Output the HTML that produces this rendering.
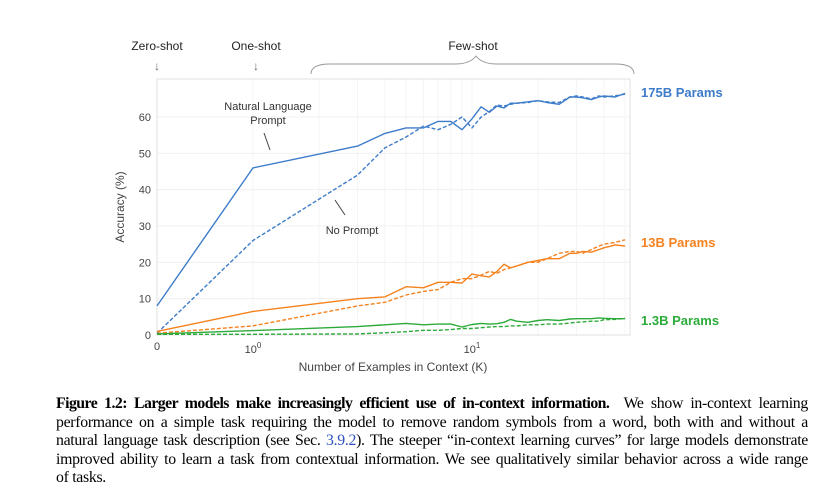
<!DOCTYPE html>
<html><head><meta charset="utf-8">
<style>
body{margin:0;background:#fff;width:828px;height:491px;overflow:hidden}
svg text{font-family:"Liberation Sans",sans-serif}
#cap{position:absolute;left:56px;top:395px;width:752px;font-family:"Liberation Serif",serif;font-size:15.8px;line-height:18.6px;color:#000;letter-spacing:-0.3px}
#cap .ln{white-space:nowrap;text-align:justify;text-align-last:justify;width:752px}
#cap .last{text-align-last:left}
</style></head><body>
<svg id="chart" width="828" height="390" style="position:absolute;left:0;top:0">
<g id="grid"></g><g id="series"></g><g id="axes"></g>
</svg>
<div id="cap">
<div class="ln"><b style="letter-spacing:-0.55px">Figure 1.2: Larger models make increasingly efficient use of in-context information.</b>&nbsp; We show in-context learning</div>
<div class="ln">performance on a simple task requiring the model to remove random symbols from a word, both with and without a</div>
<div class="ln">natural language task description (see Sec. <span style="color:#3050c0">3.9.2</span>). The steeper “in-context learning curves” for large models demonstrate</div>
<div class="ln">improved ability to learn a task from contextual information. We see qualitatively similar behavior across a wide range</div>
<div class="ln last">of tasks.</div>
</div>
<script>
const kValues=[0,1,3,4,5,6,7,8,9,10,11,12,13,14,15,16,18,20,22,25,28,30,32,35,38,40,45,50];
const nl175=[8,46,52,55.5,57,57,58.8,58.8,56.5,59.5,62.8,61.3,63,62.5,63.8,63.8,64.2,64.5,64,63.5,65.5,65.5,65.3,64.8,65.5,65.8,65.5,66.5];
const np175=[0.5,26,44,51.5,54.5,57.5,56.5,58,60,57,60,61.5,63.3,63,63.5,63.8,64,64.5,64.2,64,65.5,65.8,65.5,65,65.8,65.5,65.8,66.3];
const nl13=[1,6.5,10,10.5,13.3,13,14.5,14.5,14.3,16.8,16.3,16,17.5,19.5,18.5,19,20,20.5,21,21,22.5,22.5,23,22.8,23.5,24,24.8,24.5];
const np13=[0.5,2.5,8,9,11,12,12.5,14.5,15.5,15.5,16.5,17.5,17,18,18.5,19,20,20,21,22.5,23,23,22.5,23.5,24.5,25,25.5,26.2];
const nl1=[0.3,1.2,2.3,2.8,3.2,2.8,3,3,2.2,2.9,3.2,3,3.1,3.5,4.3,3.8,3.5,4,4.2,4,4.4,4.5,4.5,4.5,4.7,4.6,4.5,4.5];
const np1=[0.2,0.2,0.3,0.6,0.9,1.3,1.3,1.5,1.8,1.8,2,2.2,2.3,2.3,2.5,2.5,2.8,2.8,3,3,3.3,3.5,3.6,3.8,3.8,4.2,4.3,4.6];
const yTicks=[0,10,20,30,40,50,60];
const NS="http://www.w3.org/2000/svg";
const L=157,R=630,T=79,B=335;
function xs(k){return k<=0?L:253+Math.log10(k)*219;}
function ys(v){return B-v*3.633;}
function mk(tag,attrs,parent,txt){const e=document.createElementNS(NS,tag);for(const a in attrs)e.setAttribute(a,attrs[a]);if(txt!==undefined)e.textContent=txt;parent.appendChild(e);return e;}
const grid=document.getElementById('grid'),ser=document.getElementById('series'),ax=document.getElementById('axes');
for(const t of yTicks){const g=mk('line',{x1:L,x2:R,y1:ys(t),y2:ys(t),stroke:'#f0f0f0','stroke-width':1},grid);

}
for(let k=1;k<=50;k++){if(k>10&&k%10!==0)continue;const g=mk('line',{x1:xs(k),x2:xs(k),y1:T,y2:B,stroke:'#f4f4f4','stroke-width':1},grid);

}
const frame=mk('rect',{x:L,y:T,width:R-L,height:B-T,fill:'none',stroke:'#e0e0e0','stroke-width':1},grid);


const specs=[[nl175,'#3d7cc9','','175b-natural-language-line'],[np175,'#3d7cc9','4,2','175b-no-prompt-line'],
[nl13,'#f5821f','','13b-natural-language-line'],[np13,'#f5821f','4,2','13b-no-prompt-line'],
[nl1,'#2cab3a','','1.3b-natural-language-line'],[np1,'#2cab3a','4,2','1.3b-no-prompt-line']];
for(const [vals,col,dash,name] of specs){
 const d=vals.map((v,i)=>(i?'L':'M')+xs(kValues[i]).toFixed(1)+','+ys(v).toFixed(1)).join(' ');
 const p=mk('path',{d:d,fill:'none',stroke:col,'stroke-width':1.4,'stroke-dasharray':dash,'stroke-linejoin':'round'},ser);
 
 
}
for(const t of yTicks){const e=mk('text',{x:L-6,y:ys(t)+4,'text-anchor':'end','font-size':11,fill:'#444'},ax,String(t));

}
function txt(x,y,s,o,name){const e=mk('text',Object.assign({x:x,y:y,'font-size':11,fill:'#444'},o||{}),ax,s);

return e;}
txt(L,350,'0',{'text-anchor':'middle'},'x-tick-0');
const t1=txt(253,353,'10',{'text-anchor':'middle'},'x-tick-10-0');mk('tspan',{dy:-5,'font-size':8},t1,'0');
const t2=txt(472,353,'10',{'text-anchor':'middle'},'x-tick-10-1');mk('tspan',{dy:-5,'font-size':8},t2,'1');
txt(393,371,'Number of Examples in Context  (K)',{'text-anchor':'middle','font-size':12},'x-axis-title');
txt(124,207,'Accuracy (%)',{'text-anchor':'middle','font-size':12,transform:'rotate(-90 124 207)'},'y-axis-title');
txt(157,50,'Zero-shot',{'text-anchor':'middle','font-size':12,fill:'#222'},'zero-shot-label');
txt(256,50,'One-shot',{'text-anchor':'middle','font-size':12,fill:'#222'},'one-shot-label');
txt(473,50,'Few-shot',{'text-anchor':'middle','font-size':12,fill:'#222'},'few-shot-label');
txt(157,70,'↓',{'text-anchor':'middle','font-size':12,fill:'#666'},'zero-shot-arrow');
txt(256,70,'↓',{'text-anchor':'middle','font-size':12,fill:'#666'},'one-shot-arrow');
const br=mk('path',{d:'M311,74 Q311,64 330,64 L455,64 Q470,64 476,56 Q482,64 497,64 L615,64 Q634,64 634,74',fill:'none',stroke:'#999','stroke-width':1},ax);


txt(268,110,'Natural Language',{'text-anchor':'middle','font-size':11,fill:'#333'},'natural-language-annotation');
txt(268,124,'Prompt',{'text-anchor':'middle','font-size':11,fill:'#333'},'prompt-annotation');
txt(352,234,'No Prompt',{'text-anchor':'middle','font-size':11,fill:'#333'},'no-prompt-annotation');
const a1=mk('line',{x1:264,y1:133,x2:270,y2:150,stroke:'#444'},ax);
const a2=mk('line',{x1:335,y1:200,x2:345,y2:215,stroke:'#444'},ax);
txt(641,97,'175B Params',{'font-size':13,'font-weight':'bold',fill:'#3d7cc9'},'legend-175b');
txt(641,247,'13B Params',{'font-size':13,'font-weight':'bold',fill:'#f5821f'},'legend-13b');
txt(641,325,'1.3B Params',{'font-size':13,'font-weight':'bold',fill:'#2cab3a'},'legend-1.3b');
</script>
</body></html>
